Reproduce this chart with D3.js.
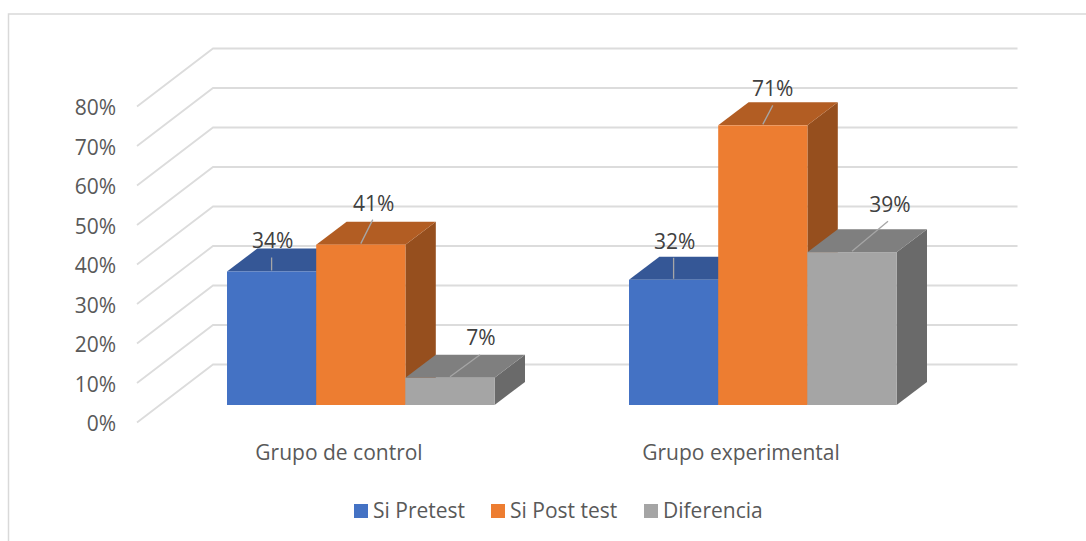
<!DOCTYPE html>
<html>
<head>
<meta charset="utf-8">
<script src="https://cdn.jsdelivr.net/npm/d3@7"></script>
<style>
	body { margin: 0; background: #fff; }
	text { font-family: "Open Sans", sans-serif; }
</style>
</head>
<body>
<svg id="chart" width="1086" height="541"></svg>
<script>
const categories = ["Grupo de control", "Grupo experimental"];
const seriesNames = ["Si Pretest", "Si Post test", "Diferencia"];
const preTest = [0.338, 0.317];
const postTest = [0.406, 0.708];
const diferencia = [0.069, 0.387];
const yTicks = [0, 0.1, 0.2, 0.3, 0.4, 0.5, 0.6, 0.7, 0.8];

const frontColors = ["#4472c4", "#ed7d31", "#a5a5a5"];
const topColors = ["#355796", "#b25d23", "#7f7f7f"];
const sideColors = ["#2c4a80", "#964f1e", "#6a6a6a"];

// label placement per bar, relative to the middle of the bar top: [line end dx, dy, text dx, dy]
const labelPlace = [
	[0, -14, 1, -32], [12, -25, 13, -42], [30, -23, 31, -41],
	[0, -22, 1, -39], [10, -20, 10, -38], [36, -31, 38, -49]
];

const svg = d3.select("#chart");
const pct = d3.format(".0%");

// front plane of the floor, bars sit part way into the depth
const floorY = 422.5, wallDx = 76, wallDy = -58;
const barDx = 30.4, barDy = -23, barShiftY = -17.5, barShiftX = 90;

const x = d3.scaleBand().domain(categories).range([137, 941]);
const y = d3.scaleLinear().domain([0, 0.8]).range([floorY, floorY - 316]);
const barW = 89.2;

/* chart frame */
svg.append("path")
	.attr("d", "M8.5,541V14H1086")
	.attr("fill", "none")
	.attr("stroke", "#d9d9d9")
	.attr("stroke-width", 1.5);

/* gridlines on the side wall and back wall */
svg.append("g").selectAll("path")
	.data(yTicks)
	.join("path")
	.attr("d", d => `M${x.range()[0]},${y(d)}l${wallDx},${wallDy}H${x.range()[1] + wallDx + 0.5}`)
	.attr("fill", "none")
	.attr("stroke", "#dcdcdc")
	.attr("stroke-width", 1.8);

/* y axis labels */
svg.append("g").selectAll("text")
	.data(yTicks)
	.join("text")
	.attr("x", 116)
	.attr("y", d => y(d) + 1)
	.attr("dy", "0.36em")
	.attr("text-anchor", "end")
	.attr("font-size", 21)
	.attr("fill", "#595959")
	.text(d => pct(d));

/* category labels */
svg.append("g").selectAll("text")
	.data(categories)
	.join("text")
	.attr("x", d => x(d) + x.bandwidth() / 2 + 1)
	.attr("y", 460)
	.attr("text-anchor", "middle")
	.attr("font-size", 21)
	.attr("fill", "#595959")
	.text(d => d);

/* bars: drawn left to right so each one covers the side of the one before */
const bars = [];
categories.forEach((c, i) => {
	[preTest, postTest, diferencia].forEach((s, j) => {
		bars.push({ cat: c, s: j, value: s[i] });
	});
});

const g = svg.append("g");
bars.forEach(b => {
	const x0 = x(b.cat) + barShiftX + b.s * barW;
	const x1 = x0 + barW;
	const yBase = y(0) + barShiftY;
	const yTop = y(b.value) + barShiftY;

	// side
	g.append("path")
		.attr("d", `M${x1},${yBase}L${x1},${yTop}l${barDx},${barDy}L${x1 + barDx},${yBase + barDy}Z`)
		.attr("fill", sideColors[b.s]);
	// top
	g.append("path")
		.attr("d", `M${x0},${yTop}L${x1},${yTop}l${barDx},${barDy}L${x0 + barDx},${yTop + barDy}Z`)
		.attr("fill", topColors[b.s]);
	// front
	g.append("rect")
		.attr("x", x0)
		.attr("y", yTop)
		.attr("width", barW)
		.attr("height", yBase - yTop)
		.attr("fill", frontColors[b.s]);
});

/* data labels with their leader lines */
bars.forEach((b, i) => {
	const cx = x(b.cat) + barShiftX + (b.s + 0.5) * barW;
	const yTop = y(b.value) + barShiftY;
	const [lx, ly, tx, ty] = labelPlace[i];
	g.append("line")
		.attr("x1", cx)
		.attr("y1", yTop - 1)
		.attr("x2", cx + lx)
		.attr("y2", yTop + ly)
		.attr("stroke", "#a6a6a6")
		.attr("stroke-width", 1.3);
	g.append("text")
		.attr("x", cx + tx)
		.attr("y", yTop + ty + 1)
		.attr("dy", "0.36em")
		.attr("text-anchor", "middle")
		.attr("font-size", 21)
		.attr("fill", "#404040")
		.text(pct(b.value));
});

/* legend */
const legendX = [354, 491, 644];
const legend = svg.append("g").selectAll("g")
	.data(seriesNames)
	.join("g")
	.attr("transform", (d, i) => `translate(${legendX[i]},504)`);
legend.append("rect")
	.attr("width", 14)
	.attr("height", 14)
	.attr("fill", (d, i) => frontColors[i]);
legend.append("text")
	.attr("x", 19)
	.attr("y", 14)
	.attr("font-size", 21)
	.attr("fill", "#595959")
	.text(d => d);
</script>
</body>
</html>
